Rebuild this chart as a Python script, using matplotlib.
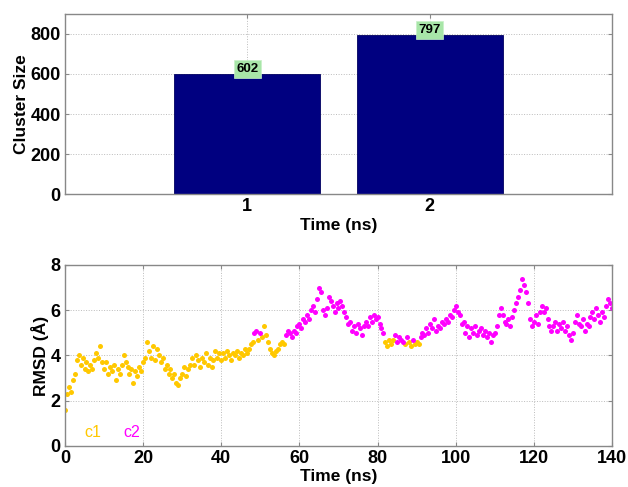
import matplotlib
matplotlib.use("Agg")
import matplotlib.pyplot as plt
import numpy as np

plt.rcParams['font.family'] = ['Liberation Sans', 'DejaVu Sans']
plt.rcParams['font.weight'] = 'bold'

# ---- top panel data ----
clusters = [1, 2]
cluster_sizes = [602, 797]
bar_labels = ["602", "797"]

# ---- bottom panel data (time step 0.5 ns) ----
time_step = 0.5
rmsd = [
    # 0-10
    1.6, 2.3, 2.6, 2.4, 2.9, 3.2, 3.8, 4.0, 3.6, 3.9, 3.4, 3.7, 3.3, 3.6, 3.4, 3.8, 4.1, 3.9, 4.4, 3.7,
    # 10-20
    3.4, 3.7, 3.2, 3.5, 3.3, 3.6, 2.9, 3.4, 3.2, 3.6, 4.0, 3.7, 3.5, 3.2, 3.4, 2.8, 3.3, 3.1, 3.5, 3.3,
    # 20-30
    3.7, 3.9, 4.6, 4.2, 3.9, 4.4, 3.8, 4.3, 4.0, 3.7, 3.9, 3.4, 3.6, 3.2, 3.4, 3.0, 3.2, 2.8, 2.7, 3.0,
    # 30-40
    3.2, 3.5, 3.1, 3.4, 3.6, 3.9, 3.6, 4.0, 3.8, 3.5, 3.9, 3.7, 4.1, 3.6, 3.9, 3.5, 3.8, 4.2, 3.9, 4.1,
    # 40-50
    3.8, 4.1, 3.9, 4.2, 4.0, 3.8, 4.1, 4.0, 4.2, 3.9, 4.1, 4.0, 4.3, 4.1, 4.3, 4.5, 4.6, 5.0, 5.1, 4.7,
    # 50-60
    5.0, 4.8, 5.3, 4.9, 4.6, 4.3, 4.1, 4.0, 4.2, 4.3, 4.5, 4.6, 4.5, 4.9, 5.1, 5.0, 4.8, 5.1, 5.0, 5.3,
    # 60-70
    5.4, 5.2, 5.6, 5.5, 5.8, 5.6, 6.0, 6.2, 5.9, 6.5, 7.0, 6.8, 6.0, 5.8, 6.1, 6.6, 6.4, 6.2, 5.9, 6.3,
    # 70-80
    6.1, 6.4, 6.2, 5.9, 5.7, 5.4, 5.5, 5.1, 5.3, 5.0, 5.4, 5.2, 4.9, 5.3, 5.5, 5.3, 5.7, 5.5, 5.8, 5.6,
    # 80-90
    5.7, 5.4, 5.2, 5.0, 4.6, 4.4, 4.7, 4.5, 4.7, 4.9, 4.6, 4.8, 4.7, 4.6, 4.5, 4.8, 4.6, 4.4, 4.7, 4.5,
    # 90-100
    4.6, 4.5, 4.8, 5.0, 4.9, 5.2, 5.0, 5.4, 5.2, 5.6, 5.1, 5.3, 5.2, 5.5, 5.4, 5.6, 5.5, 5.8, 5.7, 6.0,
    # 100-110
    6.2, 5.9, 5.8, 5.4, 5.5, 5.0, 5.3, 4.8, 5.2, 5.0, 5.3, 4.9, 5.1, 5.2, 4.9, 5.1, 4.8, 5.0, 4.6, 4.9,
    # 110-120
    5.0, 5.3, 5.8, 6.1, 5.8, 5.5, 5.4, 5.6, 5.3, 5.7, 6.0, 6.3, 6.6, 6.9, 7.4, 7.1, 6.8, 6.3, 5.6, 5.3,
    # 120-130
    5.5, 5.8, 5.4, 5.9, 6.2, 5.9, 6.1, 5.6, 5.3, 5.1, 5.3, 5.5, 5.1, 5.4, 5.2, 5.5, 5.1, 5.3, 4.9, 4.7,
    # 130-140
    5.0, 5.5, 5.8, 5.4, 5.3, 5.6, 5.1, 5.4, 5.3, 5.7, 5.9, 5.6, 6.1, 5.8, 5.5, 5.9, 5.7, 6.2, 6.5, 6.3,
    6.1,
]
# cluster membership as (start ns, end ns, cluster id) segments
cluster_segments = [
    (0.0, 48.0, 1), (48.5, 49.0, 2), (49.5, 49.5, 1), (50.0, 50.0, 2),
    (50.5, 56.0, 1), (56.5, 81.5, 2), (82.0, 84.0, 1), (84.5, 86.5, 2),
    (87.0, 87.0, 1), (87.5, 87.5, 2), (88.0, 88.5, 1), (89.0, 89.0, 2),
    (89.5, 90.5, 1), (91.0, 140.0, 2),
]
cluster_names = ["c1", "c2"]
cluster_colors = {1: "#FFC800", 2: "#FF00FF"}

t = np.arange(len(rmsd)) * time_step
rmsd = np.array(rmsd)
cid = np.ones(len(t), dtype=int)
for s, e, c in cluster_segments:
    cid[(t >= s - 1e-9) & (t <= e + 1e-9)] = c

fig = plt.figure(figsize=(6.28, 4.87), dpi=100)

# ---- top axes ----
ax1 = fig.add_axes([0.1035, 0.6016, 0.871, 0.3697])
ax1.bar(clusters, cluster_sizes, width=0.8, color="#000080", edgecolor="#000060", linewidth=0.6, zorder=2)
for x, v, lab in zip(clusters, cluster_sizes, bar_labels):
    ax1.text(x, v + 23, lab, ha="center", va="center", fontsize=9.5, fontweight="bold",
             bbox=dict(boxstyle="square,pad=0.2", facecolor="#A8E6A8", edgecolor="#C8F0C8", linewidth=0.5),
             zorder=3)
ax1.set_xlim(0, 3)
ax1.set_ylim(0, 900)
ax1.set_xticks([1, 2])
ax1.set_yticks([0, 200, 400, 600, 800])
ax1.set_xlabel("Time (ns)", fontsize=12.5, fontweight="bold", labelpad=2)
ax1.set_ylabel("Cluster Size", fontsize=12.5, fontweight="bold", labelpad=1)

# ---- bottom axes ----
ax2 = fig.add_axes([0.1035, 0.0842, 0.871, 0.3717])
for c in (1, 2):
    m = cid == c
    ax2.plot(t[m], rmsd[m], linestyle="none", marker="o", markersize=3.6,
             markeredgewidth=0, color=cluster_colors[c], zorder=2)
ax2.text(5, 0.25, cluster_names[0], color=cluster_colors[1], fontsize=11.5, fontweight="normal", va="bottom")
ax2.text(15, 0.25, cluster_names[1], color=cluster_colors[2], fontsize=11.5, fontweight="normal", va="bottom")
ax2.set_xlim(0, 140)
ax2.set_ylim(0, 8)
ax2.set_xticks(np.arange(0, 141, 20))
ax2.set_yticks([0, 2, 4, 6, 8])
ax2.set_xlabel("Time (ns)", fontsize=12.5, fontweight="bold", labelpad=1)
ax2.set_ylabel("RMSD (Å)", fontsize=12.5, fontweight="bold", labelpad=1)

for ax in (ax1, ax2):
    ax.grid(True, linestyle=":", color="#BBBBBB", linewidth=0.7, zorder=0)
    ax.set_axisbelow(True)
    ax.tick_params(direction="in", length=3, width=0.8, top=True, right=True,
                   labelsize=13, colors="#888888", labelcolor="black", pad=3)
    for lab in ax.get_xticklabels() + ax.get_yticklabels():
        lab.set_fontweight("bold")
    for sp in ax.spines.values():
        sp.set_color("#888888")
        sp.set_linewidth(1.0)

fig.savefig("out.png", dpi=100)
